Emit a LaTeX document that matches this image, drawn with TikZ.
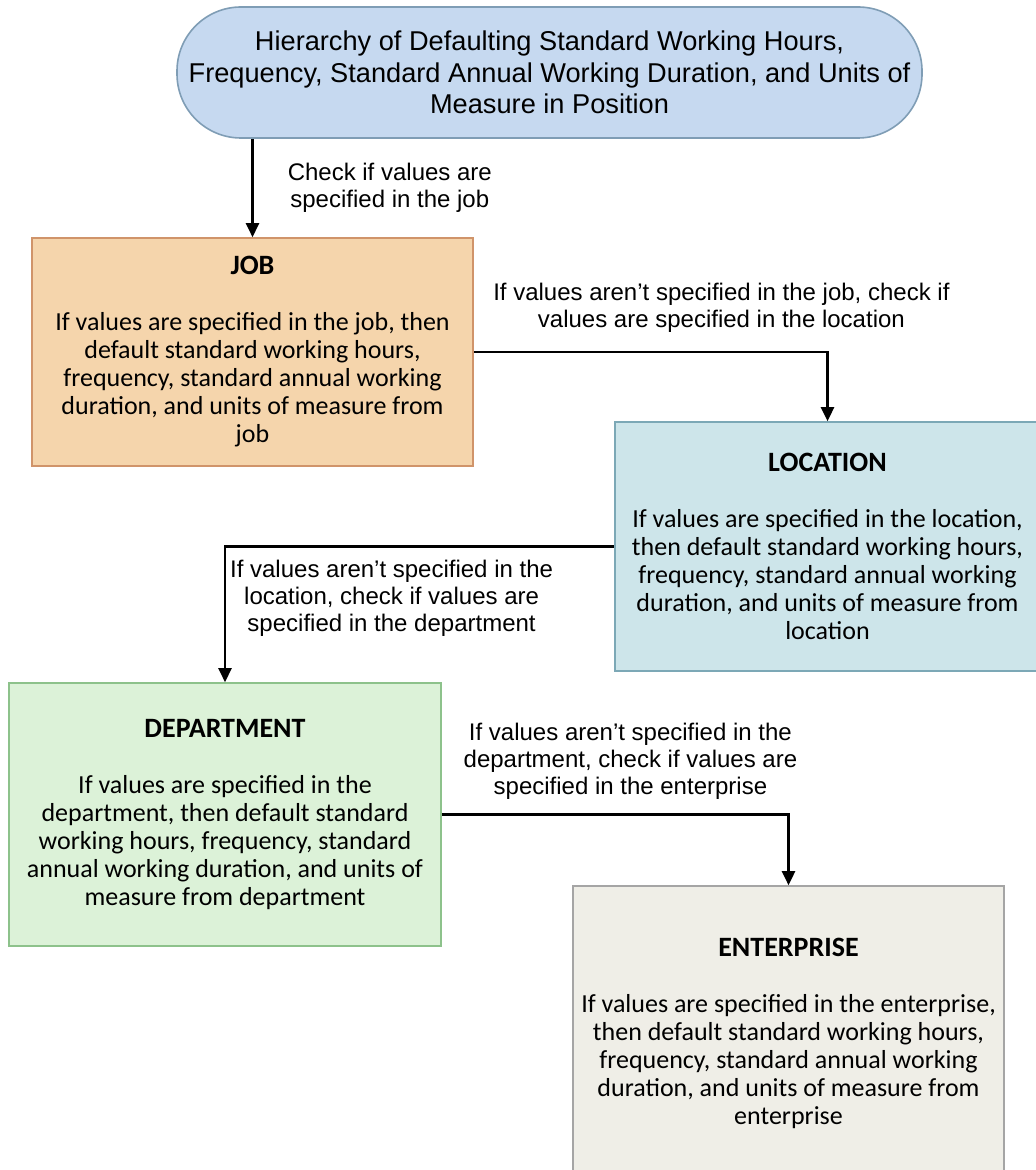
\documentclass[tikz,border=0pt]{standalone}
\usepackage{fontspec}
\setmainfont{Carlito}
\newfontfamily\lblfont{Liberation Sans}
\usetikzlibrary{arrows.meta, positioning}

\definecolor{headfill}{HTML}{C6D9F0}
\definecolor{headdraw}{HTML}{7F9DB5}
\definecolor{jobfill}{HTML}{F5D5AC}
\definecolor{jobdraw}{HTML}{D0946A}
\definecolor{locfill}{HTML}{CDE5EA}
\definecolor{locdraw}{HTML}{7CA8B6}
\definecolor{depfill}{HTML}{DCF2D8}
\definecolor{depdraw}{HTML}{8DC28B}
\definecolor{entfill}{HTML}{EFEEE7}
\definecolor{entdraw}{HTML}{A5A5A5}

\begin{document}
\begin{tikzpicture}[x=0.5pt, y=-0.5pt,
    box/.style={draw, rectangle, align=center, line width=0.8pt, font=\fontsize{13}{14}\selectfont},
    lbl/.style={align=center, inner sep=0pt, font=\lblfont\fontsize{12}{13.5}\selectfont},
    arr/.style={-{Triangle[length=7pt, width=6.5pt]}, line width=1.25pt}]
    \clip (0,0) rectangle (1036,1170);

    % Heading
    \node[draw=headdraw, fill=headfill, rectangle, rounded corners=32pt, line width=0.8pt, minimum width=372.5pt, minimum height=65.5pt, align=center, font=\lblfont\fontsize{13.6}{15.75}\selectfont] (head) at (549.5,72.5) {Hierarchy of Defaulting Standard Working Hours,\\Frequency, Standard Annual Working Duration, and Units of\\Measure in Position};

    % Job
    \node[box, fill=jobfill, draw=jobdraw, minimum width=220.5pt, minimum height=114pt] (job) at (252.5,352) {{\fontsize{14}{14}\selectfont\textbf{JOB}}\\[14pt]If values are specified in the job, then\\default standard working hours,\\frequency, standard annual working\\duration, and units of measure from\\job};

    % Location
    \node[box, fill=locfill, draw=locdraw, minimum width=212.5pt, minimum height=124.5pt] (loc) at (827.5,546.5) {{\fontsize{14}{14}\selectfont\textbf{LOCATION}}\\[14pt]If values are specified in the location,\\then default standard working hours,\\frequency, standard annual working\\duration, and units of measure from\\location};

    % Department
    \node[box, fill=depfill, draw=depdraw, minimum width=216pt, minimum height=131.5pt] (dep) at (225,814.5) {{\fontsize{14}{14}\selectfont\textbf{DEPARTMENT}}\\[14pt]If values are specified in the\\department, then default standard\\working hours, frequency, standard\\annual working duration, and units of\\measure from department};

    % Enterprise
    \node[box, fill=entfill, draw=entdraw, minimum width=215.5pt, minimum height=147pt] (ent) at (788.5,1033) {{\fontsize{14}{14}\selectfont\textbf{ENTERPRISE}}\\[14pt]If values are specified in the enterprise,\\then default standard working hours,\\frequency, standard annual working\\duration, and units of measure from\\enterprise};

    % Arrows with their checks
    \draw[arr] (head.south -| job.north) -- node[lbl, right=17pt] (chkjob) {Check if values are\\specified in the job} (job.north);
    \draw[arr] (job.east) -| node[lbl, pos=0.35, above=9pt] (chkloc) {If values aren’t specified in the job, check if\\values are specified in the location} (loc.north);
    \draw[arr] (loc.west) -| node[lbl, pos=0.286, below=6pt] (chkdep) {If values aren’t specified in the\\location, check if values are\\specified in the department} (dep.north);
    \draw[arr] (dep.east) -| node[lbl, pos=0.272, above=7pt] (chkent) {If values aren’t specified in the\\department, check if values are\\specified in the enterprise} (ent.north);
\end{tikzpicture}
\end{document}
